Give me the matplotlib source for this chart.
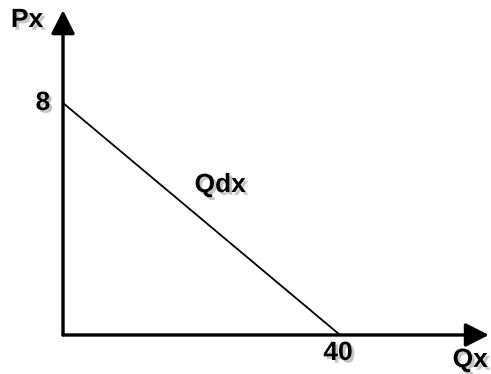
import matplotlib
matplotlib.use("Agg")
import matplotlib.pyplot as plt
import matplotlib.patheffects as pe

# demand curve end points
qx = [0, 40]
px = [8, 0]
tick_labels = {"y": "8", "x": "40"}

plt.rcParams['font.family'] = ['Liberation Sans', 'DejaVu Sans']

fig = plt.figure(figsize=(4.91, 3.74), dpi=100)
ax = fig.add_axes([0, 0, 1, 1])
ax.set_xlim(-9.10, 61.8)
ax.set_ylim(-1.345, 11.55)
ax.axis('off')

shadow = [pe.withSimplePatchShadow(offset=(2, -2), shadow_rgbFace='#808080', alpha=0.45)]

# axes with arrowheads
arrow = dict(arrowstyle='-|>,head_length=0.95,head_width=0.48', lw=2.4,
             color='black', shrinkA=0, shrinkB=0, mutation_scale=15)
ax.annotate('', xy=(0, 11.2), xytext=(0, 0), arrowprops=arrow)
ax.annotate('', xy=(61.5, 0), xytext=(0, 0), arrowprops=arrow)

# demand line
ax.plot(qx, px, color='black', lw=1.3, solid_capstyle='butt')

txt = dict(fontsize=19, fontweight='bold', ha='center', va='center', path_effects=shadow)
ax.text(-5.2, 10.86, "Px", **txt)
ax.text(-2.9, 8.0, tick_labels["y"], **txt)
ax.text(39.7, -0.62, tick_labels["x"], **txt)
ax.text(58.8, -0.86, "Qx", **txt)
ax.text(22.7, 5.17, "Qdx", **txt)

fig.savefig("out.png", dpi=100)
